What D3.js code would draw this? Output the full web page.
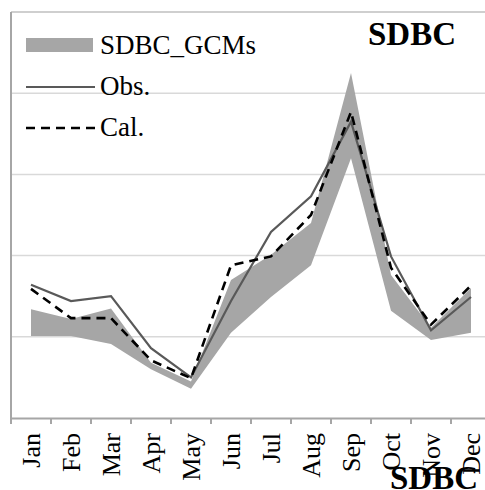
<!DOCTYPE html>
<html>
<head>
<meta charset="utf-8">
<script src="https://cdn.jsdelivr.net/npm/d3@7"></script>
<style>
  body { margin: 0; background: #fff; }
  svg { display: block; }
  text { font-family: "Liberation Serif", "Times New Roman", Times, serif; }
</style>
</head>
<body>
<svg id="chart" width="485" height="490"></svg>
<script>
const months = ['Jan','Feb','Mar','Apr','May','Jun','Jul','Aug','Sep','Oct','Nov','Dec'];
const obs = [1.64, 1.44, 1.50, 0.86, 0.50, 1.44, 2.29, 2.73, 3.65, 1.99, 1.08, 1.49];
const cal = [1.59, 1.23, 1.23, 0.71, 0.49, 1.88, 1.99, 2.50, 3.77, 1.85, 1.15, 1.63];
const gcmMax = [1.34, 1.22, 1.35, 0.68, 0.45, 1.70, 2.01, 2.40, 4.25, 1.76, 1.11, 1.60];
const gcmMin = [1.01, 1.01, 0.91, 0.60, 0.36, 1.05, 1.49, 1.88, 3.20, 1.32, 0.96, 1.05];
const yTicks = [1, 2, 3, 4, 5];

const MARGIN = { left: 11, top: 12, bottom: 72 };
const HEIGHT = 490;

const svg = d3.select('#chart');

let xScale = d3.scaleBand()
  .domain(months)
  .range([MARGIN.left, MARGIN.left + 40 * months.length])
  .padding(0);
let yScale = d3.scaleLinear()
  .domain([0, 5])
  .range([HEIGHT - MARGIN.bottom, MARGIN.top]);
const cx = m => xScale(m) + xScale.bandwidth() / 2;

// gridlines
svg.append('g').selectAll('line')
  .data(yTicks)
  .join('line')
  .attr('x1', MARGIN.left).attr('x2', 485)
  .attr('y1', d => yScale(d)).attr('y2', d => yScale(d))
  .attr('stroke', d => d === 5 ? '#bfbfbf' : '#d9d9d9')
  .attr('stroke-width', 1.5);

// band of GCMs
const rows = months.map((m, i) => ({ m: m, lo: gcmMin[i], hi: gcmMax[i], o: obs[i], c: cal[i] }));
svg.append('path')
  .datum(rows)
  .attr('fill', '#a6a6a6')
  .attr('d', d3.area().x(d => cx(d.m)).y0(d => yScale(d.lo)).y1(d => yScale(d.hi)));

// obs line
svg.append('path')
  .datum(rows)
  .attr('fill', 'none')
  .attr('stroke', '#595959')
  .attr('stroke-width', 2.2)
  .attr('d', d3.line().x(d => cx(d.m)).y(d => yScale(d.o)));

// cal line
svg.append('path')
  .datum(rows)
  .attr('fill', 'none')
  .attr('stroke', '#000')
  .attr('stroke-width', 2.6)
  .attr('stroke-dasharray', '9,6')
  .attr('d', d3.line().x(d => cx(d.m)).y(d => yScale(d.c)));

// axes
const xAxis = svg.append('g')
  .attr('transform', `translate(0, ${yScale(0)})`)
  .call(d3.axisBottom(xScale).tickSize(0).tickFormat(''));
xAxis.select('.domain').attr('stroke', '#a6a6a6').attr('stroke-width', 2);
svg.append('g').selectAll('line')
  .data(months.concat(['end']))
  .join('line')
  .attr('x1', (d, i) => MARGIN.left + i * xScale.bandwidth())
  .attr('x2', (d, i) => MARGIN.left + i * xScale.bandwidth())
  .attr('y1', yScale(0)).attr('y2', yScale(0) + 6)
  .attr('stroke', '#a6a6a6').attr('stroke-width', 2);

svg.append('line')
  .attr('x1', MARGIN.left).attr('x2', MARGIN.left)
  .attr('y1', MARGIN.top).attr('y2', yScale(0) + 6)
  .attr('stroke', '#a6a6a6').attr('stroke-width', 2);

svg.append('g').selectAll('text')
  .data(months)
  .join('text')
  .attr('transform', d => `translate(${cx(d) + 9}, ${yScale(0) + 15}) rotate(-90)`)
  .attr('text-anchor', 'end')
  .attr('font-size', '26px')
  .attr('fill', '#000')
  .text(d => d);

// legend
const leg = svg.append('g');
leg.append('rect').attr('x', 26).attr('y', 38).attr('width', 67).attr('height', 14).attr('fill', '#a6a6a6');
leg.append('line').attr('x1', 26).attr('x2', 95).attr('y1', 87).attr('y2', 87)
  .attr('stroke', '#595959').attr('stroke-width', 2.2);
leg.append('line').attr('x1', 26).attr('x2', 95).attr('y1', 128).attr('y2', 128)
  .attr('stroke', '#000').attr('stroke-width', 2.6).attr('stroke-dasharray', '9,6');
leg.selectAll('text')
  .data([['SDBC_GCMs', 54], ['Obs.', 95], ['Cal.', 136]])
  .join('text')
  .attr('x', 100).attr('y', d => d[1])
  .attr('font-size', '27px')
  .text(d => d[0]);

// titles
svg.append('text').attr('x', 368).attr('y', 45)
  .attr('font-size', '33px').attr('font-weight', 'bold').text('SDBC');
svg.append('text').attr('x', 390).attr('y', 489)
  .attr('font-size', '33px').attr('font-weight', 'bold').text('SDBC');
</script>
</body>
</html>
